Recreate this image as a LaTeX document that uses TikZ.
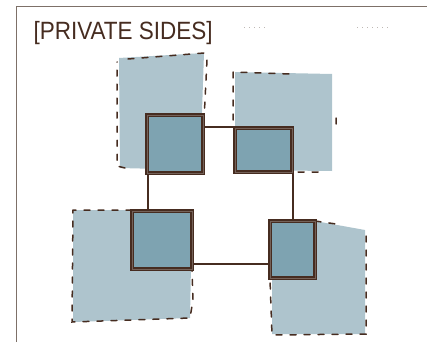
\documentclass[tikz,border=0pt]{standalone}
\usepackage{fontspec}
\usepackage{tikz}
\usetikzlibrary{positioning,calc}
\newfontfamily\titlefont[FakeStretch=0.9]{Liberation Sans}
\definecolor{SketchBrown}{RGB}{70,44,32}
\definecolor{FrameGray}{RGB}{125,112,104}
\definecolor{PaleBlue}{RGB}{174,196,205}
\definecolor{DeepBlue}{RGB}{126,163,177}

\begin{document}
\begin{tikzpicture}[
    x=1pt, y=-1pt,
    side/.style={fill=PaleBlue},
    sideedge/.style={draw=SketchBrown, line width=1.5pt, dash pattern=on 6pt off 8pt, line cap=round},
    core/.style={draw=SketchBrown, fill=DeepBlue, line width=2pt, double=SketchBrown!75!white, double distance=0.6pt, inner sep=0pt},
    link/.style={draw=SketchBrown, line width=1.4pt},
]
\useasboundingbox (0,0) rectangle (427,342);
% frame
\draw[FrameGray, line width=1pt] (16,342) -- (16,7) -- (427,7);
\node[font=\titlefont\fontsize{25}{25}\selectfont, text=SketchBrown, anchor=west] (title) at (30,33) {[PRIVATE SIDES]};
\draw[FrameGray!50, line width=0.8pt, dash pattern=on 1pt off 4pt] (244,27) -- (266,27) (357,27) -- (388,27);

% private sides
\fill[side] (119,58) -- (204,53) -- (200,170) -- (120,168) -- cycle;
\draw[sideedge] (125,168) -- (117,166) -- (117,62) (128,59) -- (204,53) -- (207,60) -- (204,120);
\fill[side] (235,72) -- (332,74) -- (332,171) -- (235,170) -- cycle;
\draw[sideedge] (233,120) -- (233,72) -- (290,74) (336,118) -- (336,128) (298,172) -- (325,172);
\fill[side] (73,210) -- (192,210) -- (190,318) -- (73,322) -- cycle;
\draw[sideedge] (132,210) -- (73,210) -- (72,322) -- (190,318) -- (193,300) -- (192,270);
\fill[side] (272,221) -- (315,221) -- (365,230) -- (365,334) -- (272,334) -- cycle;
\draw[sideedge] (315,221) -- (336,224) (366,236) -- (366,334) -- (272,335) -- (270,280);

% shared cores
\node[core, minimum width=56, minimum height=58] (core1) at (175,144) {};
\node[core, minimum width=57, minimum height=44] (core2) at (263.5,150) {};
\node[core, minimum width=60, minimum height=58] (core3) at (162,240) {};
\node[core, minimum width=45, minimum height=57] (core4) at (292.5,249.5) {};

% links
\draw[link] (core1.east |- core2.north) -- (core2.north west);
\draw[link] ($(core1.south west)+(2,0)$) -- ($(core1.south west |- core3.north)+(2,0)$);
\draw[link] (core2.south east) -- (core2.south east |- core4.north);
\coordinate (h) at ($(core3.south east)+(0,-6)$);
\draw[link] (h) -- (h -| core4.west);
\end{tikzpicture}
\end{document}
